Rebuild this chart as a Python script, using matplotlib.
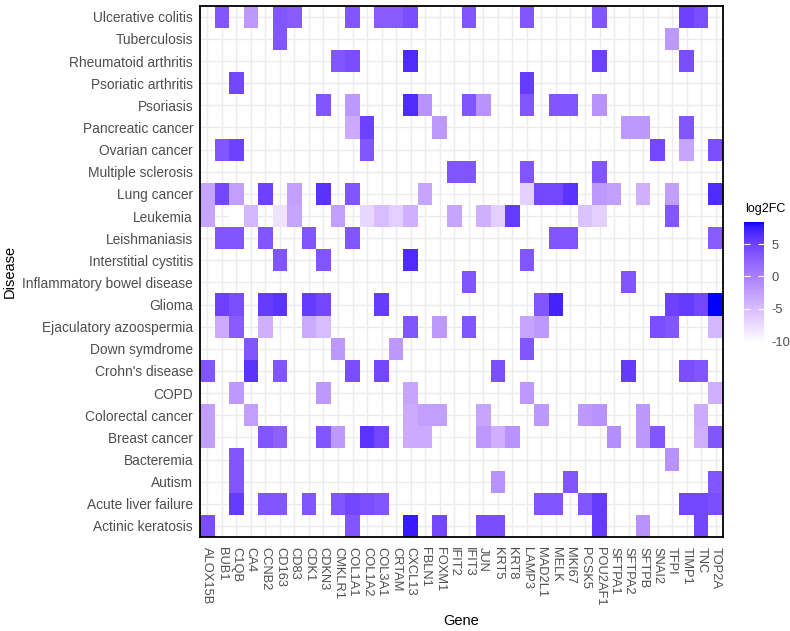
import numpy as np
import matplotlib
matplotlib.use("Agg")
import matplotlib.pyplot as plt
from matplotlib.colors import ListedColormap

# ---------------- data ----------------
genes = ["ALOX15B", "BUB1", "C1QB", "CA4", "CCNB2", "CD163", "CD83", "CDK1", "CDKN3",
         "CMKLR1", "COL1A1", "COL1A2", "COL3A1", "CRTAM", "CXCL13", "FBLN1", "FOXM1",
         "IFIT2", "IFIT3", "JUN", "KRT5", "KRT8", "LAMP3", "MAD2L1", "MELK", "MKI67",
         "PCSK5", "POU2AF1", "SFTPA1", "SFTPA2", "SFTPB", "SNAI2", "TFPI", "TIMP1",
         "TNC", "TOP2A"]

diseases = ["Ulcerative colitis", "Tuberculosis", "Rheumatoid arthritis", "Psoriatic arthritis",
            "Psoriasis", "Pancreatic cancer", "Ovarian cancer", "Multiple sclerosis",
            "Lung cancer", "Leukemia", "Leishmaniasis", "Interstitial cystitis",
            "Inflammatory bowel disease", "Glioma", "Ejaculatory azoospermia",
            "Down symdrome", "Crohn's disease", "COPD", "Colorectal cancer",
            "Breast cancer", "Bacteremia", "Autism", "Acute liver failure",
            "Actinic keratosis"]

row_genes = [
    ["BUB1", "CA4", "CD163", "CD83", "COL1A1", "COL3A1", "CRTAM", "CXCL13", "IFIT3", "LAMP3", "POU2AF1", "TIMP1", "TNC"],
    ["CD163", "TFPI"],
    ["CMKLR1", "COL1A1", "CXCL13", "POU2AF1", "TIMP1"],
    ["C1QB", "LAMP3"],
    ["CDKN3", "COL1A1", "CXCL13", "FBLN1", "IFIT3", "JUN", "LAMP3", "MELK", "MKI67", "POU2AF1"],
    ["COL1A1", "COL1A2", "FOXM1", "SFTPA2", "SFTPB", "TIMP1"],
    ["BUB1", "C1QB", "COL1A2", "SNAI2", "TIMP1", "TOP2A"],
    ["IFIT2", "IFIT3", "LAMP3", "POU2AF1"],
    ["ALOX15B", "BUB1", "C1QB", "CCNB2", "CD83", "CDKN3", "COL1A1", "FBLN1", "LAMP3", "MAD2L1", "MELK", "MKI67", "POU2AF1", "SFTPA1", "SFTPB", "TFPI", "TOP2A"],
    ["ALOX15B", "C1QB", "CA4", "CD163", "CD83", "CMKLR1", "COL1A2", "COL3A1", "CRTAM", "CXCL13", "IFIT2", "JUN", "KRT5", "KRT8", "PCSK5", "POU2AF1", "TFPI"],
    ["BUB1", "C1QB", "CCNB2", "CDK1", "COL1A1", "MELK", "MKI67", "TOP2A"],
    ["CD163", "CDKN3", "CXCL13", "LAMP3"],
    ["IFIT3", "SFTPA2"],
    ["BUB1", "C1QB", "CCNB2", "CD163", "CDK1", "CDKN3", "COL3A1", "MAD2L1", "MELK", "TFPI", "TIMP1", "TNC", "TOP2A"],
    ["BUB1", "C1QB", "CCNB2", "CDK1", "CDKN3", "CXCL13", "FOXM1", "IFIT3", "LAMP3", "MAD2L1", "SNAI2", "TFPI", "TOP2A"],
    ["CA4", "CMKLR1", "CRTAM", "LAMP3"],
    ["ALOX15B", "CA4", "CD163", "COL1A1", "COL3A1", "KRT5", "SFTPA2", "TIMP1", "TNC"],
    ["C1QB", "CDKN3", "CXCL13", "LAMP3", "TOP2A"],
    ["ALOX15B", "CA4", "CXCL13", "FBLN1", "FOXM1", "JUN", "MAD2L1", "PCSK5", "POU2AF1", "SFTPB", "TNC"],
    ["ALOX15B", "CCNB2", "CD163", "CDKN3", "CMKLR1", "COL1A2", "COL3A1", "CXCL13", "FBLN1", "JUN", "KRT5", "KRT8", "SFTPA1", "SFTPB", "SNAI2", "TNC", "TOP2A"],
    ["C1QB", "TFPI"],
    ["C1QB", "KRT5", "MKI67", "TOP2A"],
    ["C1QB", "CCNB2", "CD163", "CDK1", "CMKLR1", "COL1A1", "COL1A2", "COL3A1", "MAD2L1", "MELK", "PCSK5", "POU2AF1", "TIMP1", "TNC", "TOP2A"],
    ["ALOX15B", "COL1A1", "CXCL13", "FOXM1", "JUN", "KRT5", "POU2AF1", "SFTPB", "TNC"],
]

row_log2fc = [
    [3.5, -2, 3.5, 3, 3.5, 3, 3, 4, 3.5, 3.5, 3.5, 5, 4],
    [3.5, -2],
    [3.5, 4, 6.5, 5, 4],
    [4.5, 5.5],
    [3.5, -2, 6.5, -1.5, 3.5, -1.5, 3.5, 3.5, 3.5, -1.5],
    [-3.5, 5, -2, -2, -2, 3.5],
    [3.5, 5, 3.5, 4.5, -3, 4],
    [3.5, 3.5, 3.5, 3.5],
    [-3, 4.5, -2.5, 5, -2.5, 6, 3.5, -3, -6.5, 4.5, 4.5, 6, -2, -2.5, -4, -2.5, 6.5],
    [-3, -10.3, -4.5, -8, -3, -2.5, -7, -5, -6.5, -4, -3, -4, -6.5, 5.5, -5.5, -6.5, 3.5],
    [3.5, 3.5, 3.5, 3.5, 3.5, 3.5, 3.5, 3],
    [3.5, 3.5, 6.5, 3.5],
    [3.5, 3.5],
    [5, 4, 5.5, 6, 5.5, 4.5, 5.5, 3.5, 7, 5, 5.5, 4.5, 8.45],
    [-3.5, 3, -4, -3.5, -5, 3.5, -2, 3.5, -3, -2, 4, 3.5, -4.5],
    [3.5, -2, -2, 3.5],
    [3.5, 6, 3.5, 4, 4.5, 4, 5.5, 4, 3.5],
    [-2, -2, -3, -2, -4],
    [-2.5, -2.5, -3.5, -2.5, -2.5, -3, -2, -2, -1.5, -2, -3.5],
    [-2.5, 3.5, 2.5, 3.5, -2, 6, 4.5, -3.5, -3.5, -2, -4, -1.5, -1, -2, 3.5, -4, 3.5],
    [3.5, -1.5],
    [3.5, -1.5, 3.5, 3.5],
    [5.5, 3.5, 3.5, 3.5, 3.5, 4.5, 4, 3.5, 3.5, 3.5, 3.5, 5.5, 4.5, 4.5, 4],
    [4, 3.5, 7.5, 4.5, 4, 4, 5.5, -1.5, 4.5],
]

# ---------------- Lab interpolated white -> blue palette ----------------
_M = np.array([[0.4124564, 0.3575761, 0.1804375],
               [0.2126729, 0.7151522, 0.0721750],
               [0.0193339, 0.1191920, 0.9503041]])
_WP = np.array([0.95047, 1.0, 1.08883])
_D = 6 / 29


def srgb_to_lab(rgb):
    c = np.asarray(rgb, float)
    lin = np.where(c <= 0.04045, c / 12.92, ((c + 0.055) / 1.055) ** 2.4)
    t = (_M @ lin) / _WP
    f = np.where(t > _D ** 3, np.cbrt(t), t / (3 * _D * _D) + 4 / 29)
    return np.array([116 * f[1] - 16, 500 * (f[0] - f[1]), 200 * (f[1] - f[2])])


def lab_to_srgb(lab):
    L, a, b = lab
    fy = (L + 16) / 116
    fx = fy + a / 500
    fz = fy - b / 200
    finv = lambda f: np.where(f > _D, f ** 3, 3 * _D * _D * (f - 4 / 29))
    xyz = np.stack([finv(fx) * _WP[0], finv(fy) * _WP[1], finv(fz) * _WP[2]])
    lin = np.clip(np.linalg.inv(_M) @ xyz, 0, 1)
    s = np.where(lin <= 0.0031308, 12.92 * lin, 1.055 * lin ** (1 / 2.4) - 0.055)
    return np.clip(s, 0, 1)


lab_lo = srgb_to_lab([1, 1, 1])
lab_hi = srgb_to_lab([0, 0, 1])
tt = np.linspace(0, 1, 256)
labs = lab_lo[:, None] * (1 - tt) + lab_hi[:, None] * tt
cmap = ListedColormap(lab_to_srgb(labs).T)

# ---------------- matrix ----------------
Z = np.full((len(diseases), len(genes)), np.nan)
for i, (gs, vs) in enumerate(zip(row_genes, row_log2fc)):
    for g, v in zip(gs, vs):
        Z[i, genes.index(g)] = v

plt.rcParams["font.family"] = ["Liberation Sans", "DejaVu Sans"]
plt.rcParams["axes.unicode_minus"] = False

fig = plt.figure(figsize=(7.9, 6.31), dpi=100)
W, H = 790, 631
ax = fig.add_axes([200 / W, 1 - 537 / H, 523 / W, (537 - 5.7) / H])

xe = np.arange(len(genes) + 1) - 0.5
ye = np.arange(len(diseases) + 1) - 0.5
vmin, vmax = np.nanmin(Z), np.nanmax(Z)
mesh = ax.pcolormesh(xe, ye, np.ma.masked_invalid(Z), cmap=cmap, vmin=vmin, vmax=vmax,
                     zorder=2, edgecolors="none")
ax.set_xlim(-0.5, len(genes) - 0.5)
ax.set_ylim(len(diseases) - 0.5, -0.5)
ax.set_xticks(np.arange(len(genes)))
ax.set_xticklabels(genes, rotation=270, ha="center", va="top", fontsize=9.3, color="#4D4D4D")
ax.set_yticks(np.arange(len(diseases)))
ax.set_yticklabels(diseases, fontsize=9.9, color="#4D4D4D")
ax.tick_params(axis="x", length=0, pad=7)
ax.tick_params(axis="y", length=0, pad=5)
ax.set_axisbelow(True)
ax.grid(True, color="#EBEBEB", linewidth=1.0, zorder=0)
for sp in ax.spines.values():
    sp.set_linewidth(1.3)
    sp.set_color("black")

fig.text(10 / W, 1 - 271 / H, "Disease", rotation=90, ha="center", va="center", fontsize=10.5)
fig.text(461.5 / W, 1 - 621 / H, "Gene", ha="center", va="center", fontsize=10.5)

# colorbar
cax = fig.add_axes([744 / W, 1 - 343 / H, 20.3 / W, (343 - 221.7) / H])
cb = fig.colorbar(mesh, cax=cax, ticks=[-10, -5, 0, 5])
cb.outline.set_visible(False)
cb.ax.set_yticklabels(["-10", "-5", "0", "5"])
cax.tick_params(axis="y", which="both", direction="in", left=True, right=True,
                labelleft=False, labelright=True, color="white", length=4, width=0.8,
                labelsize=9.3, labelcolor="#4D4D4D", pad=5)
fig.text(745 / W, 1 - 209 / H, "log2FC", ha="left", va="center", fontsize=9)

fig.savefig("out.png", dpi=100)
